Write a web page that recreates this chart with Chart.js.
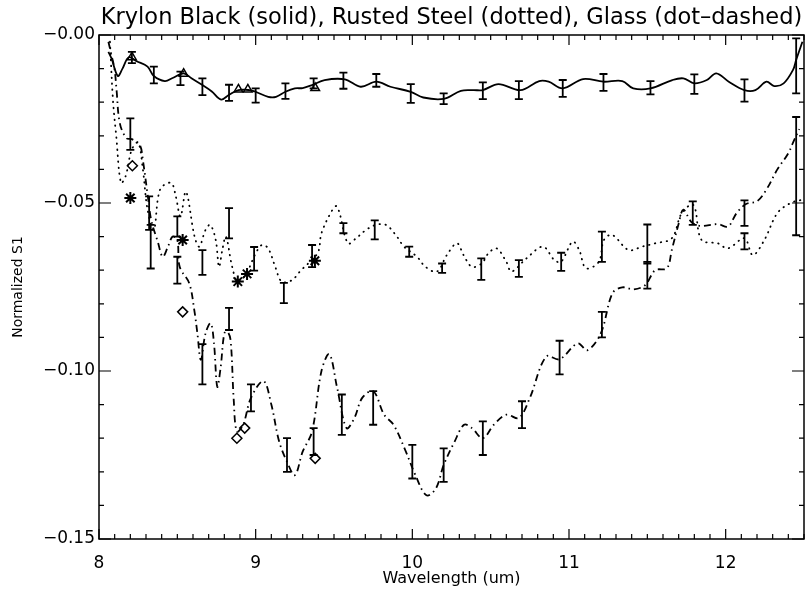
<!DOCTYPE html>
<html>
<head>
<meta charset="utf-8">
<script src="https://cdn.jsdelivr.net/npm/chart.js@4/dist/chart.umd.min.js"></script>
<style>
  html, body { margin: 0; padding: 0; background: #fff; }
</style>
</head>
<body>
<canvas id="chart" width="812" height="596"></canvas>
<script>
// Krylon Black: solid curve, error bars, triangles
const krylonWave = [8.06, 8.08, 8.12, 8.15, 8.19, 8.24, 8.31, 8.35, 8.42, 8.47, 8.54, 8.59, 8.66, 8.72, 8.78, 8.83, 8.89, 8.96, 9.00, 9.08, 9.13, 9.19, 9.25, 9.30, 9.36, 9.44, 9.57, 9.67, 9.77, 9.86, 9.99, 10.07, 10.20, 10.31, 10.39, 10.45, 10.55, 10.69, 10.81, 10.87, 10.96, 11.09, 11.22, 11.34, 11.41, 11.52, 11.66, 11.73, 11.80, 11.88, 11.94, 12.02, 12.12, 12.19, 12.26, 12.31, 12.37, 12.43, 12.45, 12.49];
const krylonS1 = [-0.005, -0.007, -0.0122, -0.010, -0.0066, -0.0078, -0.0094, -0.0122, -0.0137, -0.0128, -0.0114, -0.0129, -0.0149, -0.0168, -0.0192, -0.0178, -0.0164, -0.0164, -0.0169, -0.0184, -0.0184, -0.0169, -0.0159, -0.0158, -0.0149, -0.0134, -0.0132, -0.0154, -0.0139, -0.0154, -0.0169, -0.0186, -0.019, -0.0166, -0.0164, -0.0164, -0.0146, -0.0164, -0.0137, -0.0139, -0.0159, -0.0131, -0.0139, -0.0137, -0.0159, -0.0159, -0.0134, -0.0129, -0.0144, -0.0134, -0.0114, -0.0139, -0.0164, -0.0164, -0.0139, -0.0152, -0.0144, -0.0104, -0.0074, -0.002];
const krylonErrWave = [8.21, 8.35, 8.52, 8.66, 8.83, 9.00, 9.19, 9.37, 9.56, 9.77, 9.99, 10.20, 10.45, 10.68, 10.96, 11.22, 11.52, 11.80, 12.12, 12.45];
const krylonErrS1 = [-0.0067, -0.0119, -0.0129, -0.0154, -0.0172, -0.018, -0.0167, -0.0144, -0.0136, -0.0135, -0.0174, -0.019, -0.0166, -0.0164, -0.0159, -0.0141, -0.0157, -0.0146, -0.0165, -0.0092];
const krylonErr = [0.0017, 0.0025, 0.002, 0.0025, 0.0024, 0.0021, 0.0023, 0.0015, 0.0024, 0.0019, 0.0028, 0.0016, 0.0025, 0.0027, 0.0025, 0.0025, 0.002, 0.0029, 0.0033, 0.0082];
const krylonMarkWave = [8.21, 8.54, 8.89, 8.95, 9.38];
const krylonMarkS1 = [-0.0066, -0.0115, -0.0162, -0.0162, -0.0158];

// Rusted Steel: dotted curve, error bars, asterisks
const steelWave = [8.07, 8.09, 8.11, 8.14, 8.17, 8.21, 8.25, 8.28, 8.31, 8.35, 8.39, 8.46, 8.49, 8.52, 8.555, 8.61, 8.64, 8.68, 8.71, 8.745, 8.766, 8.787, 8.81, 8.85, 8.886, 8.94, 9.00, 9.04, 9.08, 9.125, 9.166, 9.23, 9.29, 9.357, 9.40, 9.42, 9.483, 9.515, 9.536, 9.589, 9.641, 9.705, 9.768, 9.831, 9.894, 9.947, 10.03, 10.084, 10.158, 10.22, 10.285, 10.327, 10.38, 10.443, 10.485, 10.538, 10.60, 10.633, 10.728, 10.834, 10.907, 10.95, 11.023, 11.065, 11.108, 11.19, 11.223, 11.276, 11.38, 11.466, 11.55, 11.656, 11.72, 11.794, 11.846, 11.95, 12.015, 12.12, 12.173, 12.247, 12.33, 12.415, 12.49];
const steelS1 = [-0.002, -0.02, -0.03, -0.044, -0.042, -0.034, -0.032, -0.04, -0.052, -0.058, -0.046, -0.044, -0.048, -0.054, -0.0466, -0.06, -0.063, -0.058, -0.0565, -0.061, -0.069, -0.064, -0.06, -0.069, -0.0734, -0.071, -0.065, -0.0625, -0.0635, -0.069, -0.0734, -0.073, -0.07, -0.067, -0.0645, -0.059, -0.0526, -0.0509, -0.0531, -0.062, -0.0605, -0.058, -0.0565, -0.0565, -0.0595, -0.063, -0.066, -0.069, -0.0704, -0.0655, -0.062, -0.0655, -0.069, -0.068, -0.065, -0.0635, -0.0675, -0.0704, -0.0665, -0.063, -0.067, -0.0675, -0.0615, -0.064, -0.0694, -0.0675, -0.061, -0.0595, -0.064, -0.063, -0.062, -0.0605, -0.053, -0.0506, -0.061, -0.062, -0.0635, -0.0605, -0.0655, -0.061, -0.053, -0.05, -0.049];
const steelErrWave = [8.33, 8.50, 8.66, 8.83, 8.99, 9.18, 9.36, 9.56, 9.76, 9.98, 10.19, 10.44, 10.68, 10.95, 11.21, 11.50, 11.79, 12.12];
const steelErrS1 = [-0.063, -0.057, -0.0677, -0.056, -0.0666, -0.0768, -0.0658, -0.0575, -0.058, -0.0645, -0.0694, -0.0697, -0.0695, -0.0675, -0.063, -0.0622, -0.053, -0.0614];
const steelErr = [0.0065, 0.003, 0.0037, 0.0045, 0.0035, 0.003, 0.0033, 0.0015, 0.0028, 0.0015, 0.0014, 0.0032, 0.0025, 0.0027, 0.0045, 0.0058, 0.0035, 0.0024];
const steelMarkWave = [8.20, 8.534, 8.886, 8.945, 9.378];
const steelMarkS1 = [-0.0485, -0.061, -0.0734, -0.0711, -0.0672];

// Glass: dot-dashed curve, error bars, diamonds
const glassWave = [8.06, 8.08, 8.10, 8.112, 8.133, 8.175, 8.21, 8.26, 8.28, 8.312, 8.333, 8.375, 8.407, 8.44, 8.47, 8.50, 8.515, 8.576, 8.608, 8.628, 8.65, 8.68, 8.713, 8.734, 8.755, 8.777, 8.80, 8.82, 8.84, 8.86, 8.88, 8.92, 8.97, 9.05, 9.10, 9.15, 9.20, 9.25, 9.30, 9.36, 9.42, 9.47, 9.52, 9.58, 9.63, 9.68, 9.75, 9.82, 9.88, 9.95, 10.02, 10.09, 10.15, 10.20, 10.27, 10.33, 10.38, 10.45, 10.52, 10.60, 10.68, 10.75, 10.854, 10.94, 11.055, 11.118, 11.203, 11.277, 11.34, 11.413, 11.487, 11.55, 11.625, 11.656, 11.698, 11.73, 11.78, 11.833, 11.95, 12.015, 12.07, 12.13, 12.20, 12.26, 12.33, 12.40, 12.43, 12.47];
const glassS1 = [-0.002, -0.006, -0.0104, -0.0164, -0.0263, -0.0307, -0.031, -0.0327, -0.0372, -0.0481, -0.055, -0.0615, -0.066, -0.063, -0.06, -0.061, -0.069, -0.0739, -0.0818, -0.0888, -0.0967, -0.0888, -0.0858, -0.0918, -0.1047, -0.0987, -0.0888, -0.0883, -0.0908, -0.1086, -0.118, -0.116, -0.108, -0.103, -0.11, -0.121, -0.127, -0.131, -0.124, -0.118, -0.1, -0.095, -0.105, -0.117, -0.114, -0.108, -0.106, -0.113, -0.116, -0.123, -0.131, -0.137, -0.135, -0.128, -0.121, -0.116, -0.117, -0.12, -0.116, -0.113, -0.114, -0.108, -0.0957, -0.0965, -0.0918, -0.0938, -0.0888, -0.0769, -0.0751, -0.0757, -0.0744, -0.07, -0.0694, -0.064, -0.0565, -0.052, -0.0556, -0.0568, -0.0563, -0.057, -0.053, -0.0503, -0.0495, -0.046, -0.04, -0.0352, -0.032, -0.028];
const glassErrWave = [8.20, 8.32, 8.50, 8.66, 8.83, 8.97, 9.20, 9.37, 9.55, 9.75, 10.00, 10.20, 10.45, 10.70, 10.94, 11.21, 11.50, 12.12, 12.45];
const glassErrS1 = [-0.0295, -0.053, -0.07, -0.098, -0.0845, -0.108, -0.125, -0.121, -0.113, -0.111, -0.127, -0.128, -0.12, -0.113, -0.096, -0.0862, -0.0715, -0.053, -0.042];
const glassErr = [0.0047, 0.005, 0.004, 0.006, 0.0033, 0.004, 0.005, 0.004, 0.006, 0.005, 0.005, 0.005, 0.005, 0.004, 0.005, 0.0038, 0.004, 0.0038, 0.0176];
const glassMarkWave = [8.213, 8.534, 8.88, 8.93, 9.38];
const glassMarkS1 = [-0.0389, -0.0824, -0.12, -0.117, -0.126];

const titleText = 'Krylon Black (solid), Rusted Steel (dotted), Glass (dot\u2013dashed)';

const toPoints = (xs, ys) => xs.map((x, i) => ({x: x, y: ys[i]}));

const errSets = [
    {wave: krylonErrWave, s1: krylonErrS1, err: krylonErr},
    {wave: steelErrWave, s1: steelErrS1, err: steelErr},
    {wave: glassErrWave, s1: glassErrS1, err: glassErr}
];

// I-beam error bars drawn on top of the curves
const errorBars = {
    id: 'errorBars',
    afterDatasetsDraw(chart) {
        const {ctx, scales: {x, y}} = chart;
        ctx.save();
        ctx.strokeStyle = '#000';
        ctx.lineWidth = 1.8;
        errSets.forEach(set => {
            set.wave.forEach((w, i) => {
                const px = x.getPixelForValue(w);
                const top = y.getPixelForValue(set.s1[i] + set.err[i]);
                const bot = y.getPixelForValue(set.s1[i] - set.err[i]);
                ctx.beginPath();
                ctx.moveTo(px, top); ctx.lineTo(px, bot);
                ctx.moveTo(px - 4, top); ctx.lineTo(px + 4, top);
                ctx.moveTo(px - 4, bot); ctx.lineTo(px + 4, bot);
                ctx.stroke();
            });
        });
        ctx.restore();
    }
};

// box frame with inward ticks on all four sides, plus the title
const frame = {
    id: 'frame',
    afterDraw(chart) {
        const {ctx, chartArea: a, scales: {x, y}} = chart;
        ctx.save();
        ctx.strokeStyle = '#000';
        ctx.lineWidth = 1.5;
        ctx.strokeRect(a.left, a.top, a.right - a.left, a.bottom - a.top);
        ctx.lineWidth = 1.2;
        ctx.beginPath();
        for(let i = 0; i <= 45; i++){
            const px = x.getPixelForValue(8 + i * 0.1);
            const len = i % 10 === 0 ? 10 : 5;
            ctx.moveTo(px, a.bottom); ctx.lineTo(px, a.bottom - len);
            ctx.moveTo(px, a.top); ctx.lineTo(px, a.top + len);
        }
        for(let i = 0; i <= 15; i++){
            const py = y.getPixelForValue(-i * 0.01);
            const len = i % 5 === 0 ? 12 : 5;
            ctx.moveTo(a.left, py); ctx.lineTo(a.left + len, py);
            ctx.moveTo(a.right, py); ctx.lineTo(a.right - len, py);
        }
        ctx.stroke();

        ctx.fillStyle = '#000';
        ctx.font = '22.5px "DejaVu Sans"';
        ctx.textAlign = 'center';
        ctx.textBaseline = 'middle';
        ctx.fillText(titleText, (a.left + a.right) / 2, 18);
        ctx.restore();
    }
};

Chart.defaults.font.family = '"DejaVu Sans", sans-serif';
Chart.defaults.color = '#000';

const ctx = document.getElementById('chart');
new Chart(ctx, {
    type: 'line',
    data: {
        datasets: [
            {label: 'Krylon Black', data: toPoints(krylonWave, krylonS1), borderColor: '#000', borderWidth: 1.8, pointRadius: 0, tension: 0.35, fill: false},
            {label: 'Rusted Steel', data: toPoints(steelWave, steelS1), borderColor: '#000', borderWidth: 1.8, borderDash: [0.5, 5.5], borderCapStyle: 'round', pointRadius: 0, tension: 0.35, fill: false},
            {label: 'Glass', data: toPoints(glassWave, glassS1), borderColor: '#000', borderWidth: 1.8, borderDash: [7, 4, 1.5, 4], pointRadius: 0, tension: 0.35, fill: false},
            {type: 'scatter', label: 'Krylon marks', data: toPoints(krylonMarkWave, krylonMarkS1), pointStyle: 'triangle', pointRadius: 5, borderColor: '#000', backgroundColor: 'rgba(0,0,0,0)', borderWidth: 1.5},
            {type: 'scatter', label: 'Steel marks', data: toPoints(steelMarkWave, steelMarkS1), pointStyle: 'star', pointRadius: 6, borderColor: '#000', backgroundColor: '#000', borderWidth: 2},
            {type: 'scatter', label: 'Glass marks', data: toPoints(glassMarkWave, glassMarkS1), pointStyle: 'rectRot', pointRadius: 5, borderColor: '#000', backgroundColor: 'rgba(0,0,0,0)', borderWidth: 1.5}
        ]
    },
    options: {
        responsive: false,
        animation: false,
        layout: {padding: {top: 35, right: 2, left: 0, bottom: 0}},
        plugins: {legend: {display: false}, tooltip: {enabled: false}, title: {display: false}},
        scales: {
            x: {
                type: 'linear',
                min: 8,
                max: 12.5,
                grid: {display: false, drawTicks: false},
                border: {display: false},
                ticks: {stepSize: 1, includeBounds: false, padding: 14, font: {size: 17}, maxRotation: 0},
                title: {display: true, text: 'Wavelength (um)', font: {size: 16}, padding: {top: 0, bottom: 8}},
                afterFit: scale => { scale.height = 57; }
            },
            y: {
                type: 'linear',
                min: -0.15,
                max: 0,
                grid: {display: false, drawTicks: false},
                border: {display: false},
                ticks: {
                    stepSize: 0.05,
                    padding: 4,
                    font: {size: 17},
                    callback: v => '\u2212' + Math.abs(v).toFixed(2)
                },
                title: {display: true, text: 'Normalized S1', font: {size: 14}, padding: {top: 10, bottom: 0}},
                afterFit: scale => { scale.width = 99; }
            }
        }
    },
    plugins: [errorBars, frame]
});
</script>
</body>
</html>
